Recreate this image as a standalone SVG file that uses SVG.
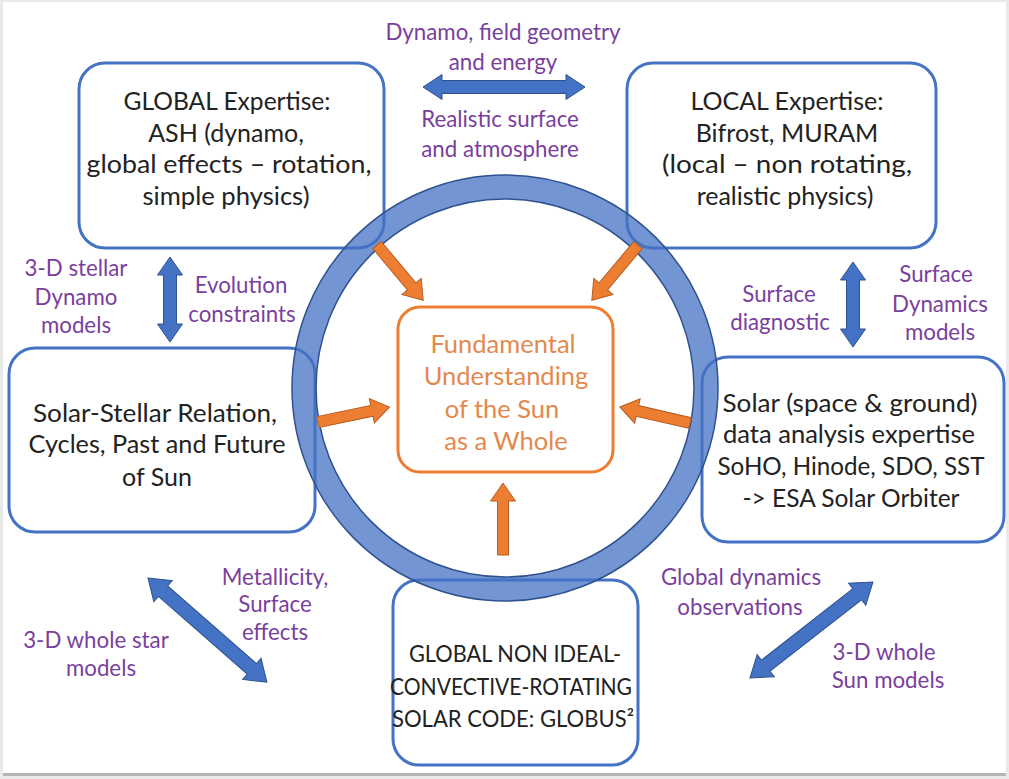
<svg xmlns="http://www.w3.org/2000/svg" width="1009" height="779" viewBox="0 0 1009 779">
<style>
.box{fill:#fff;stroke:#4472c4;stroke-width:3}
.bt{font-family:Lato,"Liberation Sans",sans-serif;font-size:25px;fill:#222;text-anchor:middle}
.sm{font-size:24px}
.pt{font-family:Lato,"Liberation Sans",sans-serif;font-size:22.3px;fill:#7a3f9e;text-anchor:middle}
.ot{font-family:Lato,"Liberation Sans",sans-serif;font-size:25.5px;fill:#e3894d;text-anchor:middle}
.ba{fill:#4472c4;stroke:#2f528f;stroke-width:1}
.oa{fill:#ed7d31;stroke:#b55d22;stroke-width:1}
</style>
<rect x="0" y="0" width="1009" height="779" fill="#e9e9e9"/>
<rect x="3" y="2" width="1003" height="771" fill="#fff"/>
<rect x="3" y="773" width="1003" height="3" fill="#b5b5b5"/>

<g id="global-box">
<rect class="box" x="79" y="63" width="305" height="185" rx="26"/>
<text class="bt" x="227" y="110" textLength="207" lengthAdjust="spacingAndGlyphs">GLOBAL Expertise:</text>
<text class="bt" x="226" y="142">ASH (dynamo,</text>
<text class="bt" x="229" y="173" textLength="285" lengthAdjust="spacingAndGlyphs">global effects – rotation,</text>
<text class="bt" x="226" y="205" textLength="167" lengthAdjust="spacingAndGlyphs">simple physics)</text>
</g>
<g id="local-box">
<rect class="box" x="627" y="63" width="309" height="185" rx="26"/>
<text class="bt" x="787" y="110">LOCAL Expertise:</text>
<text class="bt" x="787" y="142">Bifrost, MURAM</text>
<text class="bt" x="787" y="173" textLength="250" lengthAdjust="spacingAndGlyphs">(local – non rotating,</text>
<text class="bt" x="785" y="205">realistic physics)</text>
</g>
<g id="solar-stellar-box">
<rect class="box" x="9" y="348" width="306" height="184" rx="26"/>
<text class="bt" x="155" y="422" textLength="244" lengthAdjust="spacingAndGlyphs">Solar-Stellar Relation,</text>
<text class="bt" x="157" y="453" textLength="257" lengthAdjust="spacingAndGlyphs">Cycles, Past and Future</text>
<text class="bt" x="157" y="486">of Sun</text>
</g>
<g id="data-box">
<rect class="box" x="702" y="357" width="302" height="185" rx="26"/>
<text class="bt" x="850" y="412" textLength="255" lengthAdjust="spacingAndGlyphs">Solar (space &amp; ground)</text>
<text class="bt" x="849" y="443" textLength="252" lengthAdjust="spacingAndGlyphs">data analysis expertise</text>
<text class="bt" x="851" y="475" textLength="267" lengthAdjust="spacingAndGlyphs">SoHO, Hinode, SDO, SST</text>
<text class="bt" x="851" y="507" textLength="217" lengthAdjust="spacingAndGlyphs">-&gt; ESA Solar Orbiter</text>
</g>
<g id="globus-box">
<rect class="box" x="393" y="580" width="245" height="185" rx="26"/>
<text class="bt sm" x="515" y="662" textLength="212" lengthAdjust="spacingAndGlyphs">GLOBAL NON IDEAL-</text>
<text class="bt sm" x="511" y="695" textLength="242" lengthAdjust="spacingAndGlyphs">CONVECTIVE-ROTATING</text>
<text class="bt sm" x="513" y="727" textLength="242" lengthAdjust="spacingAndGlyphs">SOLAR CODE: GLOBUS²</text>
</g>

<g id="ring">
<circle cx="505" cy="388" r="201" fill="none" stroke="#4472c4" stroke-opacity="0.75" stroke-width="24"/>
<circle cx="505" cy="388" r="213" fill="none" stroke="#2f528f" stroke-width="1.5"/>
<circle cx="505" cy="388" r="189" fill="none" stroke="#2f528f" stroke-width="1.5"/>
</g>

<g id="center-box">
<rect x="398" y="307" width="215" height="165" rx="22" fill="#fff" stroke="#ed7d31" stroke-width="3"/>
<text class="ot" x="503" y="353">Fundamental</text>
<text class="ot" x="506" y="385">Understanding</text>
<text class="ot" x="502" y="418">of the Sun</text>
<text class="ot" x="506" y="450">as a Whole</text>
</g>

<g id="connectors">
<path class="oa" transform="translate(377,245) rotate(50.1)" d="M0,-5.5 L54,-5.5 L54,-12.5 L72,0 L54,12.5 L54,5.5 L0,5.5 Z"/>
<path class="oa" transform="translate(638,245) rotate(129.9)" d="M0,-5.5 L54,-5.5 L54,-12.5 L72,0 L54,12.5 L54,5.5 L0,5.5 Z"/>
<path class="oa" transform="translate(318,422) rotate(-11.8)" d="M0,-5.5 L55,-5.5 L55,-12.5 L73,0 L55,12.5 L55,5.5 L0,5.5 Z"/>
<path class="oa" transform="translate(690,423) rotate(-167.1)" d="M0,-5.5 L54,-5.5 L54,-12.5 L72,0 L54,12.5 L54,5.5 L0,5.5 Z"/>
<path class="oa" transform="translate(503,555) rotate(-90)" d="M0,-5.5 L54,-5.5 L54,-12.5 L72,0 L54,12.5 L54,5.5 L0,5.5 Z"/>

<path class="ba" transform="translate(423,87)" d="M0,0 L19,-12.5 L19,-6.5 L143,-6.5 L143,-12.5 L162,0 L143,12.5 L143,6.5 L19,6.5 L19,12.5 Z"/>
<path class="ba" transform="translate(170,257) rotate(90)" d="M0,0 L18,-12.5 L18,-6.5 L67,-6.5 L67,-12.5 L85,0 L67,12.5 L67,6.5 L18,6.5 L18,12.5 Z"/>
<path class="ba" transform="translate(853,262) rotate(90)" d="M0,0 L18,-12.5 L18,-6.5 L67,-6.5 L67,-12.5 L85,0 L67,12.5 L67,6.5 L18,6.5 L18,12.5 Z"/>
<path class="ba" transform="translate(148,578) rotate(41.2)" d="M0,0 L20,-14 L20,-7 L138,-7 L138,-14 L158,0 L138,14 L138,7 L20,7 L20,14 Z"/>
<path class="ba" transform="translate(750,678) rotate(-38)" d="M0,0 L20,-14 L20,-7 L136,-7 L136,-14 L156,0 L136,14 L136,7 L20,7 L20,14 Z"/>
</g>

<g id="labels">
<text class="pt" x="503" y="40">Dynamo, field geometry</text>
<text class="pt" x="503" y="70">and energy</text>
<text class="pt" x="500" y="127">Realistic surface</text>
<text class="pt" x="500" y="157">and atmosphere</text>
<text class="pt" x="76" y="276">3-D stellar</text>
<text class="pt" x="76" y="305">Dynamo</text>
<text class="pt" x="76" y="333">models</text>
<text class="pt" x="241" y="293">Evolution</text>
<text class="pt" x="242" y="322">constraints</text>
<text class="pt" x="779" y="302">Surface</text>
<text class="pt" x="780" y="330">diagnostic</text>
<text class="pt" x="936" y="282">Surface</text>
<text class="pt" x="940" y="312">Dynamics</text>
<text class="pt" x="940" y="340">models</text>
<text class="pt" x="275" y="585">Metallicity,</text>
<text class="pt" x="275" y="612">Surface</text>
<text class="pt" x="275" y="640">effects</text>
<text class="pt" x="96" y="648">3-D whole star</text>
<text class="pt" x="101" y="676">models</text>
<text class="pt" x="741" y="585">Global dynamics</text>
<text class="pt" x="740" y="615">observations</text>
<text class="pt" x="884" y="660">3-D whole</text>
<text class="pt" x="888" y="688">Sun models</text>
</g>
</svg>
